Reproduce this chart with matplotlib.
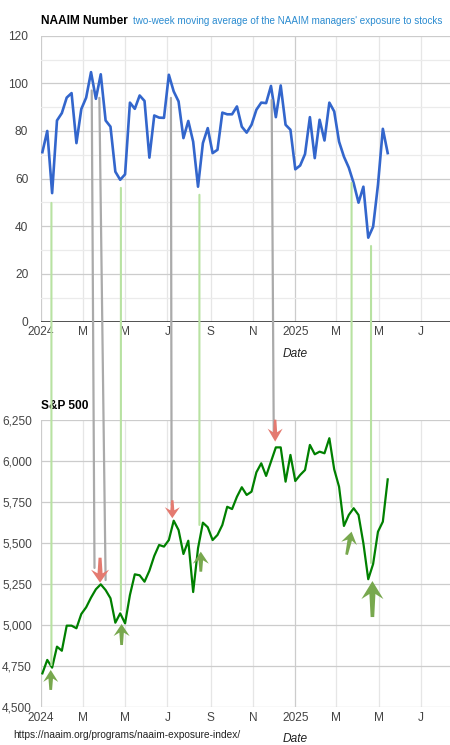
import matplotlib
matplotlib.use("Agg")
import matplotlib.pyplot as plt
import matplotlib.dates as mdates
from matplotlib.patches import ConnectionPatch, Polygon
from matplotlib.transforms import ScaledTranslation
import pandas as pd
import numpy as np

plt.rcParams['font.family'] = ['Liberation Sans', 'DejaVu Sans']

# ---------------- data ----------------
dates = pd.date_range('2024-01-03', periods=72, freq='7D')

naaim = [71.1, 80.0, 53.9, 84.4, 87.5, 94.0, 95.9, 74.9, 89.2, 94.0, 104.7, 93.5,
         103.8, 84.4, 81.8, 62.9, 59.5, 61.8, 91.9, 89.3, 94.9, 92.6, 68.8, 86.5,
         85.6, 85.5, 103.6, 96.6, 92.4, 77.0, 84.2, 75.5, 56.6, 74.9, 81.2, 70.7,
         72.1, 87.7, 87.0, 87.0, 90.3, 81.8, 79.3, 82.6, 88.9, 91.9, 91.7, 98.9,
         85.8, 99.1, 82.6, 80.5, 63.9, 65.5, 70.3, 85.8, 68.6, 84.7, 76.0, 91.9,
         88.2, 75.5, 69.2, 64.6, 58.1, 49.9, 56.6, 35.2, 39.8, 57.4, 80.9, 70.7]

sp500 = [4705, 4787, 4740, 4868, 4843, 4996, 4996, 4980, 5067, 5108, 5167, 5218,
         5248, 5213, 5163, 5014, 5071, 5010, 5183, 5309, 5303, 5264, 5331, 5421,
         5488, 5478, 5518, 5636, 5579, 5433, 5514, 5201, 5468, 5624, 5596, 5518,
         5549, 5610, 5721, 5707, 5782, 5840, 5793, 5813, 5931, 5986, 5909, 5996,
         6083, 6083, 5874, 6037, 5878, 5915, 5945, 6098, 6041, 6057, 6047, 6139,
         5949, 5843, 5604, 5671, 5712, 5671, 5498, 5279, 5372, 5569, 5630, 5888]

tick_dates = pd.date_range('2024-01-01', '2025-07-01', freq='2MS')
tick_labels = ['2024', 'M', 'M', 'J', 'S', 'N', '2025', 'M', 'M', 'J']
year_ticks = ['2024', '2025']

naaim_major = [0, 20, 40, 60, 80, 100, 120]
naaim_minor = [10, 30, 50, 70, 90, 110]
sp_ticks = [4500, 4750, 5000, 5250, 5500, 5750, 6000, 6250]

# signal connectors: (date top, NAAIM value top, date bottom, S&P value bottom)
gray_links = [
    ('2024-03-14', 97.0, '2024-03-18', 5348),
    ('2024-03-25', 93.9, '2024-04-03', 5274),
    ('2024-07-06', 93.9, '2024-07-07', 5732),
    ('2024-11-28', 93.0, '2024-12-01', 6152),
]
green_links = [
    ('2024-01-16', 49.8, '2024-01-16', 4756),
    ('2024-04-25', 56.1, '2024-04-25', 5091),
    ('2024-08-16', 53.2, '2024-08-16', 5610),
    ('2025-03-23', 58.2, '2025-03-23', 5720),
    ('2025-04-20', 31.7, '2025-04-20', 5378),
]
# arrows: (tip date, tip S&P value, tail dx px, tail dy px, head width px, head length px, tail width px)
up_arrows = [
    ('2024-01-15', 4726, 0, -20, 15, 12, 4.5),
    ('2024-04-26', 5006, 0, -21, 16, 12, 4.5),
    ('2024-08-18', 5447, 0, -20, 16, 12, 4.5),
    ('2025-03-23', 5569, -5, -23, 16, 12, 4.5),
    ('2025-04-22', 5268, 0, -36, 22, 18, 6),
]
down_arrows = [
    ('2024-03-26', 5258, 0, 25, 18, 13, 5),
    ('2024-07-08', 5651, 0, 18, 15, 11, 4),
    ('2024-12-03', 6118, 0, 22, 15, 13, 4),
]

# ---------------- layout ----------------
W, H = 450, 745
fig = plt.figure(figsize=(W / 100, H / 100), dpi=100)
ax1 = fig.add_axes([41 / W, 1 - 321.5 / H, 409 / W, (321.5 - 35.7) / H])
ax2 = fig.add_axes([41 / W, 1 - 707 / H, 409 / W, (707 - 420) / H])

xmin = mdates.date2num(pd.Timestamp('2024-01-01'))
xmax = xmin + 409 / 0.6948

light = '#e6e6e6'
mid = '#cccccc'
lab_col = '#444444'

for ax in (ax1, ax2):
    ax.set_xlim(xmin, xmax)
    for s in ax.spines.values():
        s.set_visible(False)
    for d, lab in zip(tick_dates, tick_labels):
        ax.axvline(mdates.date2num(d), color=mid if lab in year_ticks else light,
                   lw=0.9, zorder=0)
    ax.set_xticks(mdates.date2num(tick_dates))
    ax.set_xticklabels(tick_labels)
    ax.tick_params(axis='x', length=0, pad=3.5, labelsize=8.6, labelcolor=lab_col)
    ax.tick_params(axis='y', length=0, labelsize=8.6, labelcolor=lab_col)
    ax.set_xlabel('Date', fontsize=8.6, style='italic', color='#222222')
    ax.xaxis.label.set_va('baseline')

# top chart
ax1.set_ylim(0, 120)
for v in naaim_minor:
    ax1.axhline(v, color='#ebebeb', lw=0.9, zorder=0)
for v in naaim_major[1:]:
    ax1.axhline(v, color=mid, lw=0.9, zorder=0)
ax1.axhline(0, color='#333333', lw=1.2, zorder=3)
ax1.set_yticks(naaim_major)
ax1.set_yticklabels([str(v) for v in naaim_major])
ax1.tick_params(axis='y', pad=9.2)
ax1.plot(mdates.date2num(dates), naaim, color='#3366cc', lw=1.9, zorder=4,
         solid_joinstyle='round')
ax1.xaxis.set_label_coords((295 - 41) / 409, -(356.7 - 321.5) / (321.5 - 35.7))

# bottom chart
ax2.set_ylim(4500, 6250)
for v in sp_ticks:
    ax2.axhline(v, color=mid, lw=0.9, zorder=0)
ax2.set_yticks(sp_ticks)
ax2.set_yticklabels([f'{v:,}' for v in sp_ticks])
ax2.tick_params(axis='y', pad=6.5)
ax2.plot(mdates.date2num(dates), sp500, color='#008000', lw=1.6, zorder=4,
         solid_joinstyle='round')
ax2.xaxis.set_label_coords((295 - 41) / 409, -(741.7 - 707) / (707 - 420))

# connectors
def link(d1, v1, d2, v2, color, lw):
    cp = ConnectionPatch(xyA=(mdates.date2num(pd.Timestamp(d1)), v1), coordsA=ax1.transData,
                         xyB=(mdates.date2num(pd.Timestamp(d2)), v2), coordsB=ax2.transData,
                         color=color, lw=lw, zorder=5)
    fig.add_artist(cp)

for d1, v1, d2, v2 in gray_links:
    link(d1, v1, d2, v2, '#aaaaaa', 1.6)
for d1, v1, d2, v2 in green_links:
    link(d1, v1, d2, v2, '#b8e2a2', 1.5)

def arrow(d, v, dx, dy, hw, hl, tw, color):
    L = np.hypot(dx, dy)
    u = np.array([dx, dy]) / L          # from tip toward tail (display px, y up)
    w = np.array([-u[1], u[0]])
    shape = [(0, 0), (hl, hw / 2), (hl * 0.72, tw / 2), (L, tw * 0.3),
             (L, -tw * 0.3), (hl * 0.72, -tw / 2), (hl, -hw / 2)]
    verts = np.array([a * u + b * w for a, b in shape]) / 100.0   # inches
    tr = fig.dpi_scale_trans + ScaledTranslation(mdates.date2num(pd.Timestamp(d)), v,
                                                 ax2.transData)
    poly = Polygon(verts, closed=True, transform=tr, facecolor=color,
                   edgecolor='none', zorder=6, clip_on=False)
    fig.add_artist(poly)

for a in up_arrows:
    arrow(*a, color='#78a84e')
for a in down_arrows:
    arrow(*a, color='#e47a70')

# titles
fig.text(40.7 / W, 1 - 24 / H, 'NAAIM Number', fontsize=8.6, fontweight='bold',
         color='black', va='baseline', ha='left')
fig.text(133.3 / W, 1 - 24 / H,
         "two-week moving average of the NAAIM managers' exposure to stocks",
         fontsize=7.1, color='#2a8bd0', va='baseline', ha='left')
fig.text(40.7 / W, 1 - 409 / H, 'S&P 500', fontsize=8.6, fontweight='bold',
         color='black', va='baseline', ha='left')
fig.text(13.3 / W, 1 - 737.5 / H, 'https://naaim.org/programs/naaim-exposure-index/',
         fontsize=7.3, color='#222222', va='baseline', ha='left')

fig.savefig('out.png', dpi=100)
